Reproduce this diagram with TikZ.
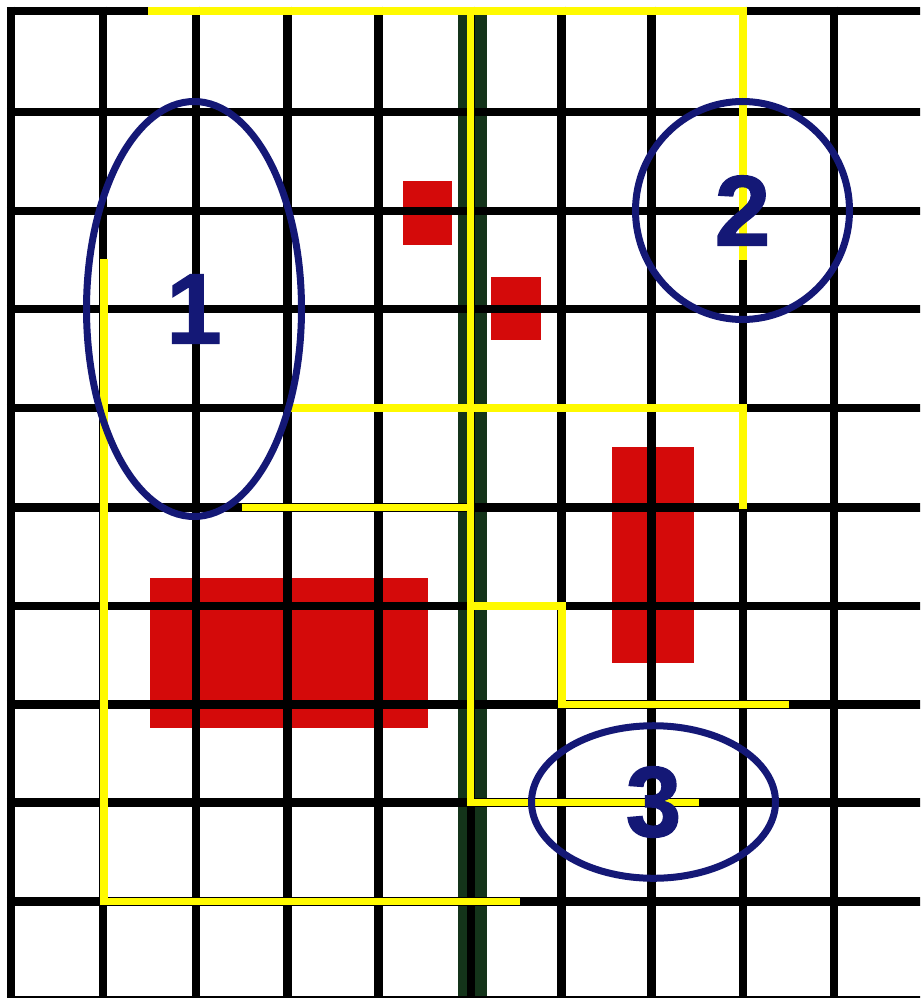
\documentclass[tikz,border=0pt]{standalone}
\usepackage{fontspec}
\setmainfont{Liberation Sans}[BoldFeatures={FakeBold=1.4}]
\usetikzlibrary{shapes.geometric}
\definecolor{blockred}{RGB}{212,10,10}
\definecolor{bandgreen}{RGB}{20,52,26}
\definecolor{routeyellow}{RGB}{255,250,0}
\definecolor{ringblue}{RGB}{20,24,118}
\begin{document}
\begin{tikzpicture}[x=0.75pt,y=-0.75pt,
  gridline/.style={line width=6.4pt, black},
  route/.style={line width=5.7pt, routeyellow, line join=miter},
  block/.style={fill=blockred},
  band/.style={fill=bandgreen},
  ring/.style={ellipse, draw=ringblue, line width=5.25pt, inner sep=0pt,
    text=ringblue, font=\fontsize{75}{75}\selectfont\bfseries}]
\useasboundingbox (0,0) rectangle (920,998);
\clip (0,0) rectangle (920,998);
\fill[white] (0,0) rectangle (920,998);
% red blocks
\fill[block] (403,181) rectangle (452,245);
\fill[block] (491,277) rectangle (541,340);
\fill[block] (612,447) rectangle (694,663);
\fill[block] (150,578) rectangle (428,728);
% green band
\fill[band] (457.5,15) rectangle (486.5,1000);
% black grid
\foreach \gx in {11,103,196,287.5,378.5,471,561.5,651.5,743,834}
  \draw[gridline] (\gx,6.75) -- (\gx,1010);
\foreach \gy in {11,112,211,309,408,507.5,606,704.5,802.5,901.5,1000}
  \draw[gridline] (6.75,\gy) -- (930,\gy);
% yellow routes
\draw[route] (148,11) -- (743,11) -- (743,260);
\draw[route] (470.5,11) -- (470.5,802.5) -- (699,802.5);
\draw[route] (104,259) -- (104,901.5) -- (520,901.5);
\draw[route] (287,408) -- (743,408) -- (743,509);
\draw[route] (241.5,507.5) -- (470.5,507.5);
\draw[route] (470.5,606) -- (562,606) -- (562,704.5) -- (789,704.5);
% rings with numbers
\node[ring, minimum width=161.25pt, minimum height=311.25pt] (r1) at (194,309) {1};
\node[ring, minimum width=160.5pt, minimum height=163.5pt] (r2) at (742.5,210.5) {2};
\node[ring, minimum width=183pt, minimum height=114.4pt] (r3) at (653.5,802) {3};
\end{tikzpicture}
\end{document}
